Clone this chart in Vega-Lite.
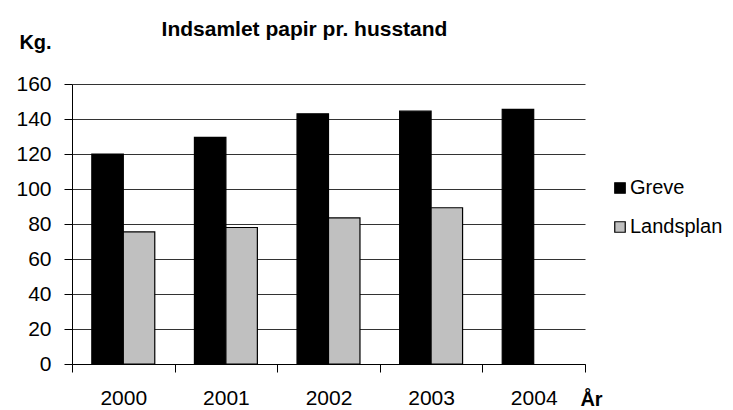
{
  "$schema": "https://vega.github.io/schema/vega-lite/v6.json",
  "width": 513,
  "height": 280,
  "autosize": "none",
  "padding": {"left": 72, "top": 84, "right": 148, "bottom": 46},
  "background": "white",
  "config": {
    "font": "Liberation Sans",
    "view": {"stroke": null}
  },
  "title": {
    "text": "Indsamlet papir pr. husstand",
    "fontSize": 21,
    "fontWeight": "bold",
    "color": "black",
    "anchor": "middle",
    "dx": -24,
    "offset": -8
  },
  "data": {
    "values": [
      {"year": "2000", "series": "Greve", "kg": 120},
      {"year": "2000", "series": "Landsplan", "kg": 75.5},
      {"year": "2001", "series": "Greve", "kg": 129.5},
      {"year": "2001", "series": "Landsplan", "kg": 78},
      {"year": "2002", "series": "Greve", "kg": 143},
      {"year": "2002", "series": "Landsplan", "kg": 83.5},
      {"year": "2003", "series": "Greve", "kg": 144.5},
      {"year": "2003", "series": "Landsplan", "kg": 89.3},
      {"year": "2004", "series": "Greve", "kg": 145.5}
    ]
  },
  "mark": {"type": "bar", "stroke": "black", "strokeWidth": 1.2},
  "encoding": {
    "x": {
      "field": "year",
      "type": "nominal",
      "scale": {"paddingInner": 0, "paddingOuter": 0},
      "axis": {
        "title": "År",
        "titleFontSize": 20,
        "titleFontWeight": "bold",
        "titleColor": "black",
        "titleAngle": 0,
        "titleX": 519,
        "titleY": 35,
        "titleAlign": "center",
        "titleBaseline": "middle",
        "labelAngle": 0,
        "labelFontSize": 21,
        "labelColor": "black",
        "labelPadding": 15,
        "tickBand": "extent",
        "tickSize": 8,
        "tickColor": "black",
        "domainColor": "black",
        "grid": false
      }
    },
    "xOffset": {
      "field": "series",
      "type": "nominal",
      "scale": {"paddingInner": 0, "paddingOuter": 0.63}
    },
    "y": {
      "field": "kg",
      "type": "quantitative",
      "scale": {"domain": [0, 160], "nice": false},
      "axis": {
        "title": "Kg.",
        "titleFontSize": 20,
        "titleFontWeight": "bold",
        "titleColor": "black",
        "titleAngle": 0,
        "titleX": -37,
        "titleY": -42,
        "titleAlign": "center",
        "titleBaseline": "middle",
        "values": [0, 20, 40, 60, 80, 100, 120, 140, 160],
        "labelFontSize": 21,
        "labelColor": "black",
        "labelPadding": 13,
        "tickSize": 8,
        "tickColor": "black",
        "domainColor": "black",
        "gridColor": "#333333",
        "gridOpacity": 1
      }
    },
    "color": {
      "field": "series",
      "type": "nominal",
      "scale": {"domain": ["Greve", "Landsplan"], "range": ["#000000", "#C0C0C0"]},
      "legend": {
        "title": null,
        "orient": "none",
        "legendX": 538,
        "legendY": 94,
        "symbolType": "square",
        "symbolSize": 110,
        "symbolStrokeColor": "black",
        "symbolStrokeWidth": 1.2,
        "labelFontSize": 20,
        "labelColor": "black",
        "labelOffset": 0,
        "rowPadding": 19
      }
    }
  }
}
